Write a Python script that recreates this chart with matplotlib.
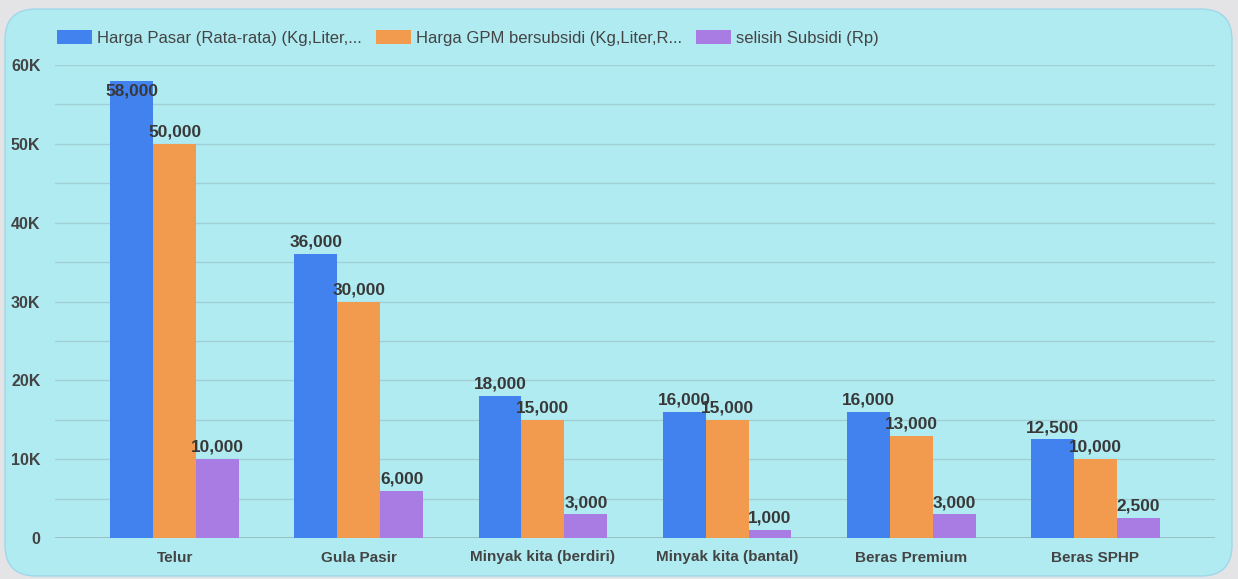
import matplotlib.pyplot as plt
import numpy as np
from matplotlib.patches import FancyBboxPatch, Patch

# data
categories = ["Telur", "Gula Pasir", "Minyak kita (berdiri)", "Minyak kita (bantal)",
              "Beras Premium", "Beras SPHP"]
harga_pasar = [58000, 36000, 18000, 16000, 16000, 12500]
harga_gpm = [50000, 30000, 15000, 15000, 13000, 10000]
selisih = [10000, 6000, 3000, 1000, 3000, 2500]
series_names = ["Harga Pasar (Rata-rata) (Kg,Liter,...",
                "Harga GPM bersubsidi (Kg,Liter,R...",
                "selisih Subsidi (Rp)"]
yticks = [0, 10000, 20000, 30000, 40000, 50000, 60000]
ytick_labels = ["0", "10K", "20K", "30K", "40K", "50K", "60K"]

colors = ["#4282EF", "#F29B4E", "#A97CE3"]
panel_bg = "#AFEBF1"

plt.rcParams["font.family"] = ["Liberation Sans", "DejaVu Sans"]

W, H = 1238, 579
fig = plt.figure(figsize=(W / 100, H / 100), dpi=100)
fig.patch.set_facecolor("#E4E3E6")

# rounded card behind the chart
card = FancyBboxPatch((5 / W, 3 / H), 1227 / W, 567 / H,
                      boxstyle="round,pad=0,rounding_size=0.025",
                      transform=fig.transFigure, facecolor=panel_bg,
                      edgecolor="#9ED8EA", linewidth=1.0, zorder=-5,
                      mutation_aspect=W / H)
fig.patches.append(card)

ax = fig.add_axes([55 / W, 1 - 538 / H, (1215 - 55) / W, (538 - 65) / H])
ax.set_facecolor("none")
ax.set_zorder(2)

x = np.arange(len(categories))
width = 0.233
all_series = [harga_pasar, harga_gpm, selisih]

for i, (vals, col, name) in enumerate(zip(all_series, colors, series_names)):
    pos = x + (i - 1) * width
    ax.bar(pos, vals, width, color=col, label=name, zorder=3)
    for px, v in zip(pos, vals):
        ly = min(v + 1500, 56700)
        ax.text(px, ly, f"{v:,}", ha="center", va="center",
                fontsize=12.4, fontweight="bold", color="#383838", zorder=4)

ax.set_xlim(-0.65, 5.65)
ax.set_ylim(0, 60000)

# gridlines every 5K
for g in range(5000, 60001, 5000):
    ax.axhline(g, color="#A2CFD4", linewidth=1, zorder=1)
ax.axhline(0, color="#95B9BE", linewidth=1.2, zorder=2)

ax.set_yticks(yticks)
ax.set_yticklabels(ytick_labels, fontsize=11.5, fontweight="bold", color="#444444")
ax.set_xticks(x)
ax.set_xticklabels(categories, fontsize=11, fontweight="bold", color="#444444")
ax.tick_params(axis="both", length=0)
ax.tick_params(axis="y", pad=10.5)
ax.tick_params(axis="x", pad=9)
for s in ax.spines.values():
    s.set_visible(False)

handles = [Patch(facecolor=c, edgecolor="none") for c in colors]
leg = fig.legend(handles, series_names, loc="center left",
                 bbox_to_anchor=(57 / W, 1 - 38 / H), ncol=3, frameon=False,
                 fontsize=12, handlelength=2.1, handleheight=0.95,
                 handletextpad=0.3, columnspacing=0.84, borderpad=0,
                 borderaxespad=0)
for t in leg.get_texts():
    t.set_color("#444444")

fig.savefig("out.png", dpi=100, facecolor=fig.get_facecolor())
